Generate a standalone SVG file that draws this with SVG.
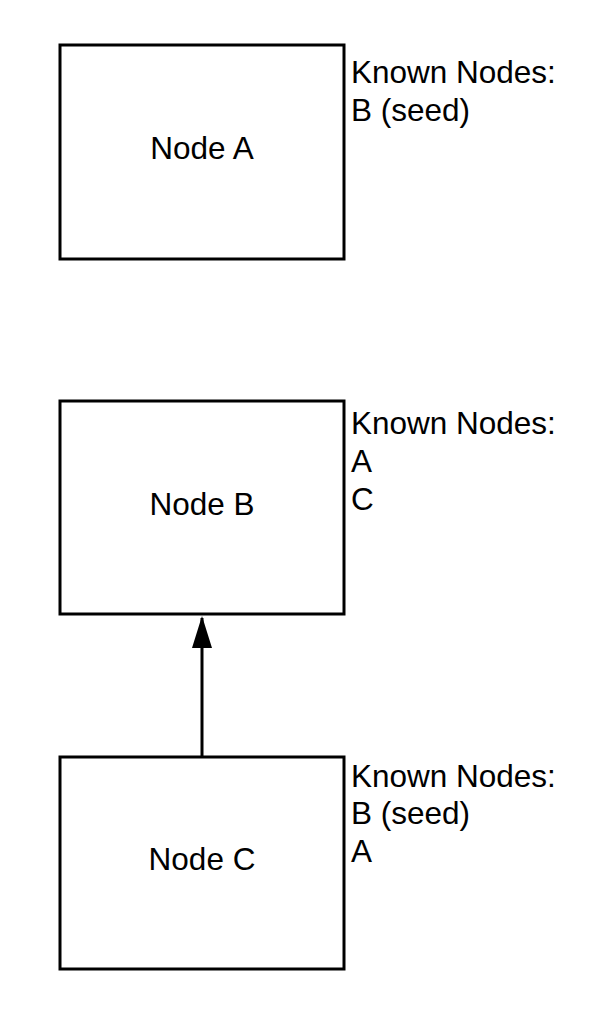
<svg xmlns="http://www.w3.org/2000/svg" width="590" height="1010" viewBox="0 0 590 1010">
<style>
.box{fill:#fff;stroke:#000;stroke-width:3}
.lbl{font-family:"Liberation Sans",Arial,sans-serif;font-size:31.5px;fill:#000}
.mid{text-anchor:middle}
.conn{stroke:#000;stroke-width:3;fill:none}
</style>
<defs>
<marker id="arr" viewBox="0 0 32 20" refX="30" refY="10" markerWidth="32" markerHeight="20" markerUnits="userSpaceOnUse" orient="auto">
<path d="M0,0 L32,10 L0,20 Z" fill="#000"/>
</marker>
</defs>
<rect width="590" height="1010" fill="#fff"/>
<g id="nodeA">
<rect class="box" x="60" y="45" width="284" height="214"/>
<text class="lbl mid" x="202" y="159">Node A</text>
<text class="lbl" x="351" y="83">Known Nodes:</text>
<text class="lbl" x="351" y="121">B (seed)</text>
</g>
<g id="nodeB">
<rect class="box" x="60" y="401" width="284" height="213"/>
<text class="lbl mid" x="202" y="515">Node B</text>
<text class="lbl" x="351" y="434">Known Nodes:</text>
<text class="lbl" x="351" y="472">A</text>
<text class="lbl" x="351" y="510">C</text>
</g>
<g id="nodeC">
<rect class="box" x="60" y="757" width="284" height="212"/>
<text class="lbl mid" x="202" y="870">Node C</text>
<text class="lbl" x="351" y="787">Known Nodes:</text>
<text class="lbl" x="351" y="824">B (seed)</text>
<text class="lbl" x="351" y="862">A</text>
</g>
<g id="connectors">
<line class="conn" x1="202" y1="757" x2="202" y2="618" marker-end="url(#arr)"/>
</g>
</svg>
